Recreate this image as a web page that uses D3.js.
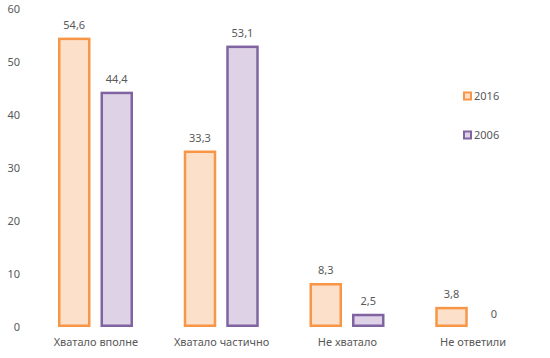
<!DOCTYPE html>
<html><head><meta charset="utf-8">
<script src="https://cdn.jsdelivr.net/npm/d3@7"></script>
<style>body{margin:0;background:#fff}text{font-family:"Noto Sans",sans-serif;fill:#595959}</style>
</head><body>
<script>
const categories = ["Хватало вполне","Хватало частично","Не хватало","Не ответили"];
const seriesNames = ["2016","2006"];
const values2016 = [54.6, 33.3, 8.3, 3.8];
const values2006 = [44.4, 53.1, 2.5, 0];
const yTicks = [0,10,20,30,40,50,60];
const strokeColors = ["#F79646","#8064A2"];
const fillColors = ["#FDE0C9","#DED2E6"];

const W=550,H=358;
const svg=d3.select("body").append("svg").attr("width",W).attr("height",H);
const y=d3.scaleLinear().domain([0,60]).range([327,9]);
const x0=d3.scaleBand().domain(categories).range([33,536]).padding(0);
const x1=d3.scaleBand().domain(seriesNames).range([25,100]).paddingInner(0.235);
const fmt=v=>String(v).replace(".",",");

const yAxis=d3.axisLeft(y).tickValues(yTicks).tickSize(0).tickFormat(d=>d);
const ga=svg.append("g").attr("transform","translate(25,0)").call(yAxis);
ga.select(".domain").remove();
ga.selectAll("text").style("font-size","11px").attr("fill","#595959").attr("font-family","Noto Sans").attr("dx",-2);

const data=[values2016,values2006];
const sw=2.5;
seriesNames.forEach((s,si)=>{
  const g=svg.append("g");
  const vals=data[si];
  g.selectAll("rect").data(categories.map((c,i)=>({c,v:vals[i]}))).join("rect")
    .filter(d=>d.v>0)
    .attr("x",d=>x0(d.c)+x1(s)+sw/2)
    .attr("y",d=>y(d.v)+sw/2)
    .attr("width",x1.bandwidth()-sw)
    .attr("height",d=>Math.max(0,y(0)-y(d.v)-sw))
    .attr("fill",fillColors[si]).attr("stroke",strokeColors[si]).attr("stroke-width",sw);
  g.selectAll("text").data(categories.map((c,i)=>({c,v:vals[i]}))).join("text")
    .attr("x",d=>x0(d.c)+x1(s)+x1.bandwidth()/2)
    .attr("y",d=>y(d.v)-9)
    .attr("text-anchor","middle").style("font-size","11px")
    .text(d=>fmt(d.v));
});

svg.append("g").selectAll("text").data(categories).join("text")
  .attr("x",d=>x0(d)+x0.bandwidth()/2).attr("y",346)
  .attr("text-anchor","middle").style("font-size","11px").text(d=>d);

const legY=[96,135];
seriesNames.forEach((s,si)=>{
  svg.append("rect").attr("x",464).attr("y",legY[si]-3.5).attr("width",7).attr("height",7)
    .attr("fill",fillColors[si]).attr("stroke",strokeColors[si]).attr("stroke-width",2);
  svg.append("text").attr("x",474).attr("y",legY[si]+4).style("font-size","11px").text(s);
});
</script>
</body></html>
